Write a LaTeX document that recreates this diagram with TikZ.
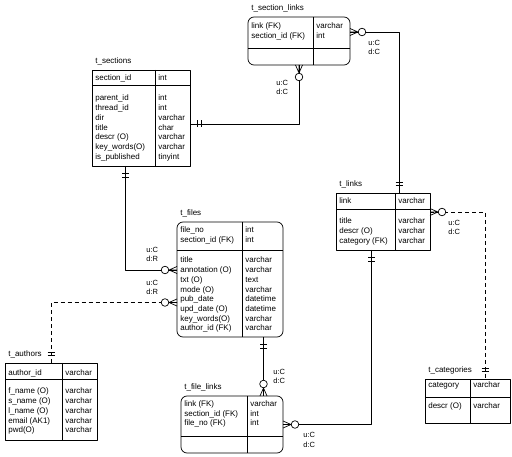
\documentclass[tikz,border=0pt]{standalone}
\usepackage{fontspec}
\setmainfont{Liberation Sans}
\newcommand\fieldrows[5]{\foreach \a/\b [count=\i] in {#5}{\node[txt] (#1\i) at (#2,{#4+(\i-1)*9.7}) {\a};\node[txt] (#1t\i) at (#3,{#4+(\i-1)*9.7}) {\b};}}
\begin{document}
\begin{tikzpicture}[x=1pt,y=-1pt,line width=0.7pt,line join=round,font=\fontsize{8}{9.7}\selectfont,
	ent/.style={draw,inner sep=0pt,outer sep=0pt,anchor=north west},
	dep/.style={ent,rounded corners=6pt},
	txt/.style={inner sep=0pt,anchor=base west},
	lbl/.style={txt,font=\fontsize{7.5}{9}\selectfont},
	opt/.style={dash pattern=on 4pt off 3pt},
	pics/many/.style={code={\draw[solid] (8,0)--(0,-3.5) (8,0)--(0,3.5) (8,0)--(0,0);\draw[solid,fill=white] (12,0) circle (3.8);}},
	pics/one/.style={code={\draw[solid] (7.5,-3.5)--(7.5,3.5) (11,-3.5)--(11,3.5);}}]
	\useasboundingbox (0,0) rectangle (512,457);
	\foreach \n/\s/\x/\y/\w/\h/\dx/\dy/\t in {seclinks/dep/248/17/102/48/65/31/t\_section\_links,
		sections/ent/92/70/98/96/63/15/t\_sections,
		files/dep/177/222/106/115/65/28/t\_files,
		links/ent/336/193/94/57/59/16/t\_links,
		authors/ent/5/363/92/77/57/16/t\_authors,
		filelinks/dep/181/396/102/57/66/40/t\_file\_links,
		categories/ent/425/379/85/44/45/18/t\_categories}
	{\node[\s,minimum width=\w pt,minimum height=\h pt] (\n) at (\x,\y) {};
		\draw (\x+\dx,\y)--(\x+\dx,\y+\h) (\x,\y+\dy)--(\x+\w,\y+\dy);
		\node[txt] (\n-t) at (\x+3,\y-6) {\t};}
	\fieldrows{seclinks-k}{251}{316}{28.5}{link (FK)/varchar,section\_id (FK)/int}
	\fieldrows{sections-k}{95}{158}{81}{section\_id/int}
	\fieldrows{sections-a}{95}{158}{101}{parent\_id/int,thread\_id/int,dir/varchar,title/char,descr (O)/varchar,key\_words(O)/varchar,is\_published/tinyint}
	\fieldrows{files-k}{180}{245}{233}{file\_no/int,section\_id (FK)/int}
	\fieldrows{files-a}{180}{245}{263}{title/varchar,annotation (O)/varchar,txt (O)/text,mode (O)/varchar,pub\_date/datetime,upd\_date (O)/datetime,key\_words(O)/varchar,author\_id (FK)/varchar}
	\fieldrows{links-k}{339}{398}{204}{link/varchar}
	\fieldrows{links-a}{339}{398}{224}{title/varchar,descr (O)/varchar,category (FK)/varchar}
	\fieldrows{authors-k}{8}{65}{375.5}{author\_id/varchar}
	\fieldrows{authors-a}{8}{65}{394}{f\_name (O)/varchar,s\_name (O)/varchar,l\_name (O)/varchar,email (AK1)/varchar,pwd(O)/varchar}
	\fieldrows{filelinks-k}{184}{250}{406.5}{link (FK)/varchar,section\_id (FK)/int,file\_no (FK)/int}
	\fieldrows{categories-k}{428}{473}{388}{category/varchar}
	\fieldrows{categories-a}{428}{473}{408}{descr (O)/varchar}
	\path
	([yshift=-6pt]sections.east) coordinate (sec-r)
	([yshift=9pt]seclinks.east) coordinate (sl-r)
	([xshift=16pt]links.north) coordinate (lk-t)
	([xshift=-16pt]sections.south) coordinate (sec-b)
	([yshift=9.5pt]files.west) coordinate (fl-w1)
	([yshift=-23pt]files.west) coordinate (fl-w2)
	([xshift=33.5pt]files.south) coordinate (fl-b)
	(fl-b |- filelinks.north) coordinate (fk-t)
	([xshift=-12pt]links.south) coordinate (lk-b)
	([yshift=9.5pt]links.east) coordinate (lk-r)
	([xshift=17.5pt]categories.north) coordinate (cat-t)
	;
	\draw (seclinks.south) |- (sec-r);
	\draw (sl-r) -| (lk-t);
	\draw (sec-b) |- (fl-w1);
	\draw[opt] (authors.north) |- (fl-w2);
	\draw (fl-b) -- (fk-t);
	\draw (lk-b) |- (filelinks.east);
	\draw[opt] (lk-r) -| (cat-t);
	\pic[rotate=-90] at (seclinks.south) {many};
	\pic at (sec-r) {one};
	\pic at (sl-r) {many};
	\pic[rotate=90] at (lk-t) {one};
	\pic[rotate=-90] at (sec-b) {one};
	\pic[rotate=180] at (fl-w1) {many};
	\pic[rotate=90] at (authors.north) {one};
	\pic[rotate=180] at (fl-w2) {many};
	\pic[rotate=-90] at (fl-b) {one};
	\pic[rotate=90] at (fk-t) {many};
	\pic[rotate=-90] at (lk-b) {one};
	\pic at (filelinks.east) {many};
	\pic at (lk-r) {many};
	\pic[rotate=90] at (cat-t) {one};
	\foreach \n/\x/\y/\u/\d in {r1/276/85.5/C/C,r2/368/45.5/C/C,r3/146/252.5/C/R,r4/146/285.5/C/R,r5/273/374.5/C/C,r6/303/437.5/C/C,r7/448/225.5/C/C}
	{\node[lbl] (\n-u) at (\x,\y) {u:\u};\node[lbl] (\n-d) at (\x,\y+9.5) {d:\d};}
\end{tikzpicture}
\end{document}
